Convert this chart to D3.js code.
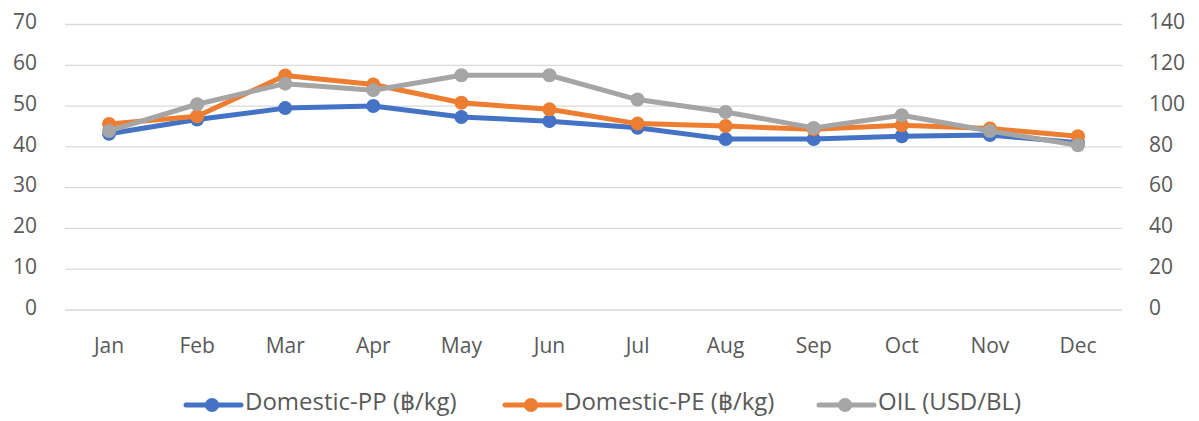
<!DOCTYPE html>
<html><head><meta charset="utf-8">
<script src="https://cdn.jsdelivr.net/npm/d3@7"></script>
<style>body{margin:0;background:#fff}svg{display:block}</style>
</head><body><svg id="c" width="1199" height="421"></svg>
<script>
const months = ["Jan","Feb","Mar","Apr","May","Jun","Jul","Aug","Sep","Oct","Nov","Dec"];
const domesticPP = [43.2,46.7,49.5,50.0,47.3,46.3,44.7,41.9,41.9,42.6,42.9,41.0];
const domesticPE = [45.6,47.5,57.5,55.3,50.8,49.2,45.7,45.1,44.3,45.3,44.5,42.6];
const oil = [87.8,100.9,111.0,107.8,115.1,115.1,103.2,97.1,89.3,95.5,87.8,80.8];
const leftTicks = [0,10,20,30,40,50,60,70];
const rightTicks = [0,20,40,60,80,100,120,140];
const seriesNames = ["Domestic-PP (฿/kg)","Domestic-PE (฿/kg)","OIL (USD/BL)"];
const colors = ["#4472C4","#ED7D31","#A5A5A5"];

const svg = d3.select("#c");
const font = "'Open Sans', 'Noto Sans', sans-serif";
const L = 65, R = 1122, T = 24.5, B = 310;
const x = d3.scaleBand().domain(months).range([L, R]);
const yL = d3.scaleLinear().domain([0,70]).range([B, T]);
const yR = d3.scaleLinear().domain([0,140]).range([B, T]);

// gridlines
svg.append("g").selectAll("line").data(leftTicks).join("line")
  .attr("x1", L).attr("x2", R)
  .attr("y1", d => yL(d)).attr("y2", d => yL(d))
  .attr("stroke", "#D9D9D9").attr("stroke-width", 1.3);

// left axis
const axL = svg.append("g").attr("transform", `translate(${L},-2.5)`)
  .call(d3.axisLeft(yL).tickValues(leftTicks).tickSize(0).tickPadding(28));
axL.select(".domain").remove();
axL.selectAll("text").attr("font-family", font).attr("font-size", 21).attr("fill", "#595959");

// right axis
const axR = svg.append("g").attr("transform", `translate(${R},-2.5)`)
  .call(d3.axisRight(yR).tickValues(rightTicks).tickSize(0).tickPadding(27));
axR.select(".domain").remove();
axR.selectAll("text").attr("font-family", font).attr("font-size", 21).attr("fill", "#595959");

// x axis
const axB = svg.append("g").attr("transform", `translate(0,${B})`)
  .call(d3.axisBottom(x).tickSize(0).tickPadding(28));
axB.select(".domain").remove();
axB.selectAll("text").attr("font-family", font).attr("font-size", 21).attr("fill", "#595959");

const series = [
  {vals: domesticPP, y: yL, c: colors[0]},
  {vals: domesticPE, y: yL, c: colors[1]},
  {vals: oil, y: yR, c: colors[2]}
];
const cx = m => x(m) + x.bandwidth()/2;
series.forEach(s => {
  const line = d3.line().x((d,i) => cx(months[i])).y(d => s.y(d));
  svg.append("path").datum(s.vals).attr("d", line)
    .attr("fill", "none").attr("stroke", s.c).attr("stroke-width", 5)
    .attr("stroke-linejoin", "round").attr("stroke-linecap", "round");
  svg.append("g").selectAll("circle").data(s.vals).join("circle")
    .attr("cx", (d,i) => cx(months[i])).attr("cy", d => s.y(d))
    .attr("r", 7).attr("fill", s.c);
});

// legend
const legX = [186, 505, 819];
const legY = 405;
seriesNames.forEach((n, i) => {
  const g = svg.append("g");
  g.append("line").attr("x1", legX[i]).attr("x2", legX[i]+55)
    .attr("y1", legY).attr("y2", legY).attr("stroke", colors[i]).attr("stroke-width", 5)
    .attr("stroke-linecap", "round");
  g.append("circle").attr("cx", legX[i]+26).attr("cy", legY).attr("r", 7).attr("fill", colors[i]);
  g.append("text").attr("x", legX[i]+59).attr("y", legY - 3.5).attr("dy", "0.35em")
    .attr("font-family", font).attr("font-size", 24).attr("fill", "#595959").text(n);
});
</script></body></html>
